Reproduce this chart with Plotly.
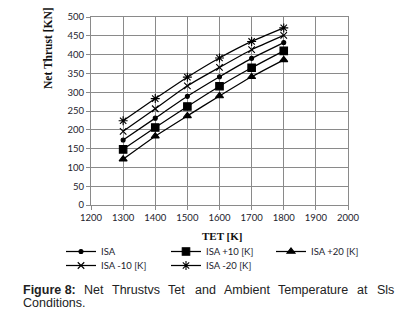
import plotly.graph_objects as go

tet = [1300, 1400, 1500, 1600, 1700, 1800]
isa = [173, 231, 289, 341, 390, 432]
isa_p10 = [148, 206, 262, 316, 365, 410]
isa_p20 = [122, 183, 237, 290, 341, 386]
isa_m10 = [196, 256, 317, 366, 413, 451]
isa_m20 = [224, 283, 340, 391, 435, 471]

x_ticks = [1200, 1300, 1400, 1500, 1600, 1700, 1800, 1900, 2000]
y_ticks = [0, 50, 100, 150, 200, 250, 300, 350, 400, 450, 500]

series = [
    ("ISA", isa, "circle", 4, "legend"),
    ("ISA +10 [K]", isa_p10, "square", 7.5, "legend"),
    ("ISA +20 [K]", isa_p20, "triangle-up", 7, "legend"),
    ("ISA -10 [K]", isa_m10, "x-thin-open", 6.5, "legend2"),
    ("ISA -20 [K]", isa_m20, "asterisk-open", 7.5, "legend2"),
]

caption_words = ["<b>Figure 8:</b>", "Net", "Thrustvs", "Tet", "and",
                 "Ambient", "Temperature", "at", "Sls"]
caption_px = [21.5, 83, 111, 167, 194, 223, 277, 356, 376]

OFF = 8  # page body margin
L, R, T, B = 91 - OFF, 63, 17 - OFF, 106
W, H = 411 - OFF, 311 - OFF
PW, PH = W - L - R, H - T - B


def px_x(px):
    return (px - OFF - L) / PW


def px_y(py):
    return (H - B - (py - OFF)) / PH


fig = go.Figure()
for name, vals, sym, sz, lg in series:
    fig.add_trace(go.Scatter(
        x=tet, y=vals, name=name, mode="lines+markers",
        line=dict(color="black", width=1.25, shape="spline", smoothing=0.4),
        marker=dict(symbol=sym, size=sz, color="black",
                    line=dict(color="black", width=1.1)),
        legend=lg,
    ))

grid = "#8a8a8a"
tickfont = dict(family="Lato, Liberation Sans", size=9.5, color="#1c1c2c")
legfont = dict(family="Lato, Liberation Sans", size=9.5, color="#1c1c2c")
fig.update_layout(
    width=W, height=H,
    margin=dict(l=L, r=R, t=T, b=B, autoexpand=False),
    paper_bgcolor="white", plot_bgcolor="white",
    font=dict(family="Liberation Sans, Arial", size=10, color="#222"),
    showlegend=True,
    legend=dict(orientation="h", x=px_x(61), xanchor="left", y=px_y(237), yanchor="top",
                entrywidth=60, entrywidthmode="pixels", traceorder="normal",
                font=legfont, bgcolor="rgba(0,0,0,0)", borderwidth=0,
                itemwidth=30),
    legend2=dict(orientation="h", x=px_x(61), xanchor="left", y=px_y(251), yanchor="top",
                 entrywidth=60, entrywidthmode="pixels", traceorder="normal",
                 font=legfont, bgcolor="rgba(0,0,0,0)", borderwidth=0,
                 itemwidth=30),
)
fig.update_xaxes(
    range=[1200, 2000], tickvals=x_ticks, ticktext=[str(v) for v in x_ticks],
    showgrid=True, gridcolor=grid, gridwidth=1,
    showline=True, linecolor=grid, mirror=True,
    ticks="outside", ticklen=4, tickcolor=grid,
    tickfont=tickfont, zeroline=False,
)
fig.update_yaxes(
    range=[0, 500], tickvals=y_ticks, ticktext=[str(v) for v in y_ticks],
    showgrid=True, gridcolor=grid, gridwidth=1,
    showline=True, linecolor=grid, mirror=True,
    ticks="outside", ticklen=4, tickcolor=grid,
    tickfont=tickfont, zeroline=False,
)
serif = "Liberation Serif, Times New Roman"
fig.add_annotation(
    text="<b>Net Thrust [KN]</b>", textangle=-90,
    xref="paper", yref="paper", x=px_x(48), y=px_y(48),
    xanchor="center", yanchor="middle", showarrow=False,
    font=dict(family=serif, size=11.5, color="#111"),
)
fig.add_annotation(
    text="<b>TET [K]</b>",
    xref="paper", yref="paper", x=px_x(222), y=px_y(236),
    xanchor="center", yanchor="middle", showarrow=False,
    font=dict(family=serif, size=11, color="#111"),
)
capfont = dict(family="Liberation Sans, Arial", size=12.5, color="#222")
for word, xp in zip(caption_words, caption_px):
    fig.add_annotation(
        text=word, xref="paper", yref="paper", x=px_x(xp), y=px_y(290),
        xanchor="left", yanchor="middle", showarrow=False, font=capfont,
        borderpad=0,
    )
fig.add_annotation(
    text="Conditions.", xref="paper", yref="paper", x=px_x(21.5), y=px_y(302.5),
    xanchor="left", yanchor="middle", showarrow=False, font=capfont, borderpad=0,
)
fig.write_html("out.html")
